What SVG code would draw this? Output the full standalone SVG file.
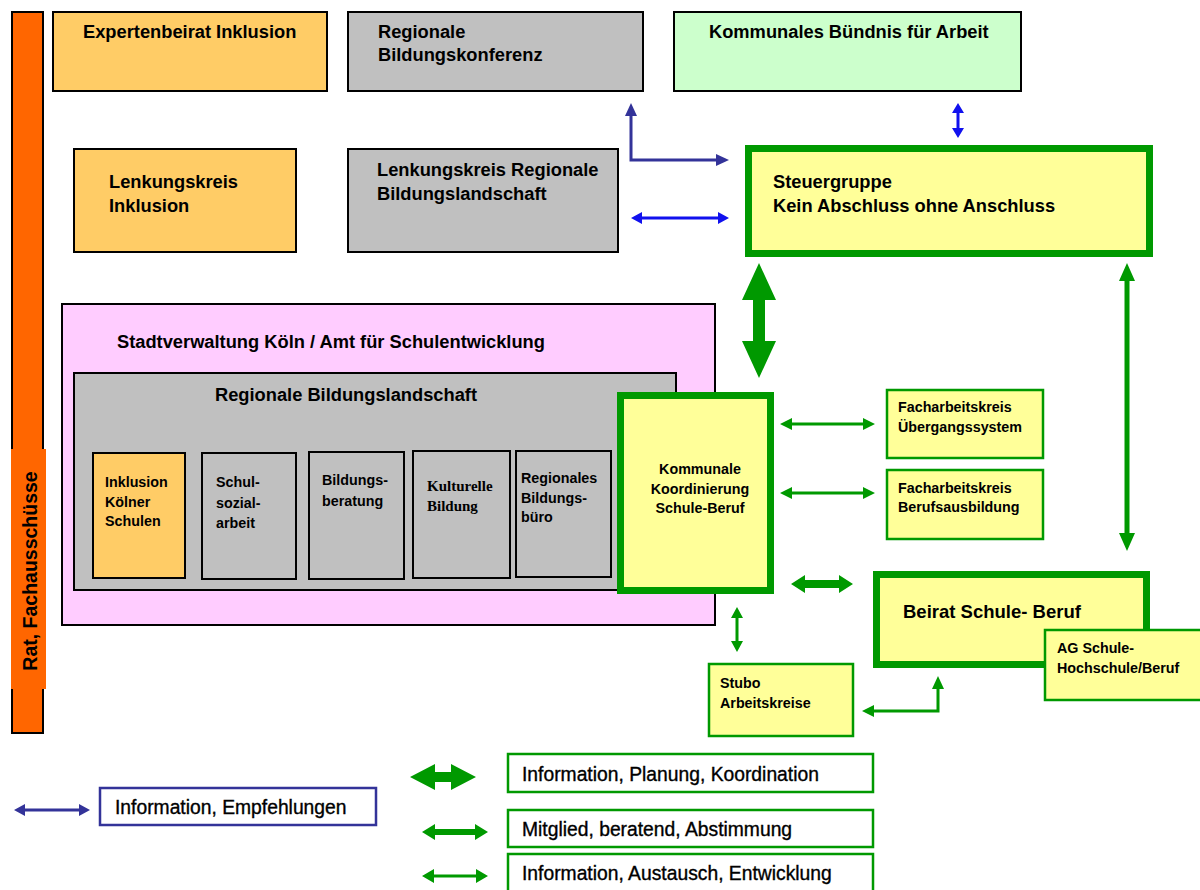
<svg xmlns="http://www.w3.org/2000/svg" width="1200" height="890" viewBox="0 0 1200 890">
<style>
text{font-family:"Liberation Sans",Arial,sans-serif;font-weight:bold;fill:#000}
.b{stroke:#000;stroke-width:2}
.or{fill:#FFCC66}
.gr{fill:#C0C0C0}
.gk{fill:#FFFF99;stroke:#009900;stroke-width:7}
.gt{fill:#FFFF99;stroke:#009900;stroke-width:2.5}
.lg{fill:#fff;stroke:#009900;stroke-width:2.5}
.t17{font-size:18.3px}
.t14{font-size:14.3px}
.t13{font-size:14.3px}
.leg{font-size:19.3px;font-weight:normal;stroke:#000;stroke-width:0.35}
.ga{fill:#009900}
.ba{fill:#333399}
.bb{fill:#1111EE}
</style>

<g id="rat">
<rect x="12" y="12" width="31" height="721" fill="#FF6600" class="b"/>
<rect x="11" y="449" width="35" height="240" fill="#FF6600"/>
<text transform="translate(37,571) rotate(-90)" text-anchor="middle" style="font-size:19.5px">Rat, Fachausschüsse</text>
</g>

<g id="expertenbeirat">
<rect x="53" y="12" width="274" height="79" class="b or"/>
<text class="t17" x="83" y="38">Expertenbeirat Inklusion</text>
</g>

<g id="bildungskonferenz">
<rect x="348" y="12" width="295" height="79" class="b gr"/>
<text class="t17" x="378" y="38">Regionale</text>
<text class="t17" x="378" y="61">Bildungskonferenz</text>
</g>

<g id="buendnis">
<rect x="674" y="12" width="347" height="79" class="b" fill="#CCFFCC"/>
<text class="t17" x="709" y="38">Kommunales Bündnis für Arbeit</text>
</g>

<g id="lenkungskreis-inklusion">
<rect x="74" y="149" width="222" height="103" class="b or"/>
<text class="t17" x="109" y="188">Lenkungskreis</text>
<text class="t17" x="109" y="212">Inklusion</text>
</g>

<g id="lenkungskreis-rbl">
<rect x="348" y="149" width="270" height="103" class="b gr"/>
<text class="t17" x="377" y="176">Lenkungskreis Regionale</text>
<text class="t17" x="377" y="200">Bildungslandschaft</text>
</g>

<g id="steuergruppe">
<rect x="748.5" y="148.5" width="401" height="105" class="gk"/>
<text class="t17" x="773" y="188">Steuergruppe</text>
<text class="t17" x="773" y="212">Kein Abschluss ohne Anschluss</text>
</g>

<g id="stadtverwaltung">
<rect x="62" y="304" width="653" height="321" class="b" fill="#FFCCFF"/>
<text class="t17" x="117" y="348">Stadtverwaltung Köln / Amt für Schulentwicklung</text>
</g>

<g id="rbl">
<rect x="74" y="373" width="602" height="217" class="b gr"/>
<text class="t17" x="346" y="401" text-anchor="middle">Regionale Bildungslandschaft</text>
</g>

<g id="inklusion-schulen">
<rect x="93" y="453" width="92" height="125" class="b or"/>
<text class="t14" x="105" y="487">Inklusion</text>
<text class="t14" x="105" y="507">Kölner</text>
<text class="t14" x="105" y="526">Schulen</text>
</g>

<g id="schulsozialarbeit">
<rect x="202" y="453" width="94" height="126" class="b gr"/>
<text class="t14" x="216" y="487">Schul-</text>
<text class="t14" x="216" y="508">sozial-</text>
<text class="t14" x="216" y="528">arbeit</text>
</g>

<g id="bildungsberatung">
<rect x="309" y="452" width="95" height="127" class="b gr"/>
<text class="t14" x="322" y="485">Bildungs-</text>
<text class="t14" x="322" y="506">beratung</text>
</g>

<g id="kulturelle-bildung">
<rect x="413" y="451" width="97" height="127" class="b gr"/>
<text x="427" y="491" style="font-family:'Liberation Serif','Times New Roman',serif;font-size:15px">Kulturelle</text>
<text x="427" y="511" style="font-family:'Liberation Serif','Times New Roman',serif;font-size:15px">Bildung</text>
</g>

<g id="bildungsbuero">
<rect x="516" y="451" width="95" height="126" class="b gr"/>
<text class="t14" x="521" y="483">Regionales</text>
<text class="t14" x="521" y="503">Bildungs-</text>
<text class="t14" x="521" y="522">büro</text>
</g>

<g id="kommunale-koordinierung">
<rect x="620.5" y="395.5" width="150" height="195" class="gk"/>
<text class="t14" x="700" y="474" text-anchor="middle">Kommunale</text>
<text class="t14" x="700" y="494" text-anchor="middle">Koordinierung</text>
<text class="t14" x="700" y="513" text-anchor="middle">Schule-Beruf</text>
</g>

<g id="fak-uebergang">
<rect x="887" y="390" width="156" height="68" class="gt"/>
<text class="t13" x="898" y="412">Facharbeitskreis</text>
<text class="t13" x="898" y="432">Übergangssystem</text>
</g>

<g id="fak-berufsausbildung">
<rect x="887" y="470" width="156" height="69" class="gt"/>
<text class="t13" x="898" y="493">Facharbeitskreis</text>
<text class="t13" x="898" y="512">Berufsausbildung</text>
</g>

<g id="beirat">
<rect x="876.5" y="574.5" width="270" height="90" class="gk"/>
<text x="903" y="618" style="font-size:18.5px">Beirat Schule- Beruf</text>
</g>

<g id="ag-hochschule">
<rect x="1045" y="630" width="160" height="70" class="gt"/>
<text class="t13" x="1057" y="653">AG  Schule-</text>
<text class="t13" x="1057" y="673">Hochschule/Beruf</text>
</g>

<g id="stubo">
<rect x="709" y="664" width="144" height="72" class="gt"/>
<text class="t13" x="720" y="688">Stubo</text>
<text class="t13" x="720" y="708">Arbeitskreise</text>
</g>

<g id="connectors">
<polyline points="631,114 631,160 718,160" fill="none" stroke="#333399" stroke-width="3"/>
<polygon class="ba" points="631,103 637,116 625,116"/>
<polygon class="ba" points="729,160 716,154 716,166"/>
<polygon class="bb" points="631,218 642,212 642,216.5 718,216.5 718,212 729,218 718,224 718,219.5 642,219.5 642,224"/>
<polygon class="bb" points="958,103 964,113 959.5,113 959.5,128 964,128 958,138 952,128 956.5,128 956.5,113 952,113"/>
<polygon class="ga" points="759,263 776,300 765,300 765,341 776,341 759,378 742,341 753,341 753,300 742,300"/>
<polygon class="ga" points="1127,263 1135,281 1129.5,281 1129.5,533 1135,533 1127,551 1119,533 1124.5,533 1124.5,281 1119,281"/>
<polygon class="ga" points="780,424 792,418 792,422.5 863,422.5 863,418 875,424 863,430 863,425.5 792,425.5 792,430"/>
<polygon class="ga" points="780,493 792,487 792,491.5 863,491.5 863,487 875,493 863,499 863,494.5 792,494.5 792,499"/>
<polygon class="ga" points="791,584 805,575 805,580 839,580 839,575 853,584 839,593 839,588 805,588 805,593"/>
<polygon class="ga" points="737,607 743,618 738.5,618 738.5,641 743,641 737,652 731,641 735.5,641 735.5,618 731,618"/>
<polyline points="872,711 938,711 938,688" fill="none" stroke="#009900" stroke-width="3"/>
<polygon class="ga" points="862,711 874,705 874,717"/>
<polygon class="ga" points="938,676 944,689 932,689"/>
</g>

<g id="legend">
<polygon class="ba" points="14,810 25,804 25,808.5 79,808.5 79,804 90,810 79,816 79,811.5 25,811.5 25,816"/>
<rect x="100" y="788" width="276" height="37" fill="#fff" stroke="#333399" stroke-width="2.5"/>
<text class="leg" x="115" y="814">Information, Empfehlungen</text>

<polygon class="ga" points="410,777 435,764 435,772 451,772 451,764 476,777 451,790 451,782 435,782 435,790"/>
<rect x="508" y="754" width="365" height="38" class="lg"/>
<text class="leg" x="522" y="781">Information, Planung, Koordination</text>

<polygon class="ga" points="422,832 435,824 435,829 475,829 475,824 488,832 475,840 475,835 435,835 435,840"/>
<rect x="508" y="810" width="365" height="37" class="lg"/>
<text class="leg" x="522" y="836">Mitglied, beratend, Abstimmung</text>

<polygon class="ga" points="422,876 434,869 434,874.5 476,874.5 476,869 488,876 476,883 476,877.5 434,877.5 434,883"/>
<rect x="508" y="854" width="365" height="40" class="lg"/>
<text class="leg" x="522" y="880">Information, Austausch, Entwicklung</text>
</g>
</svg>
